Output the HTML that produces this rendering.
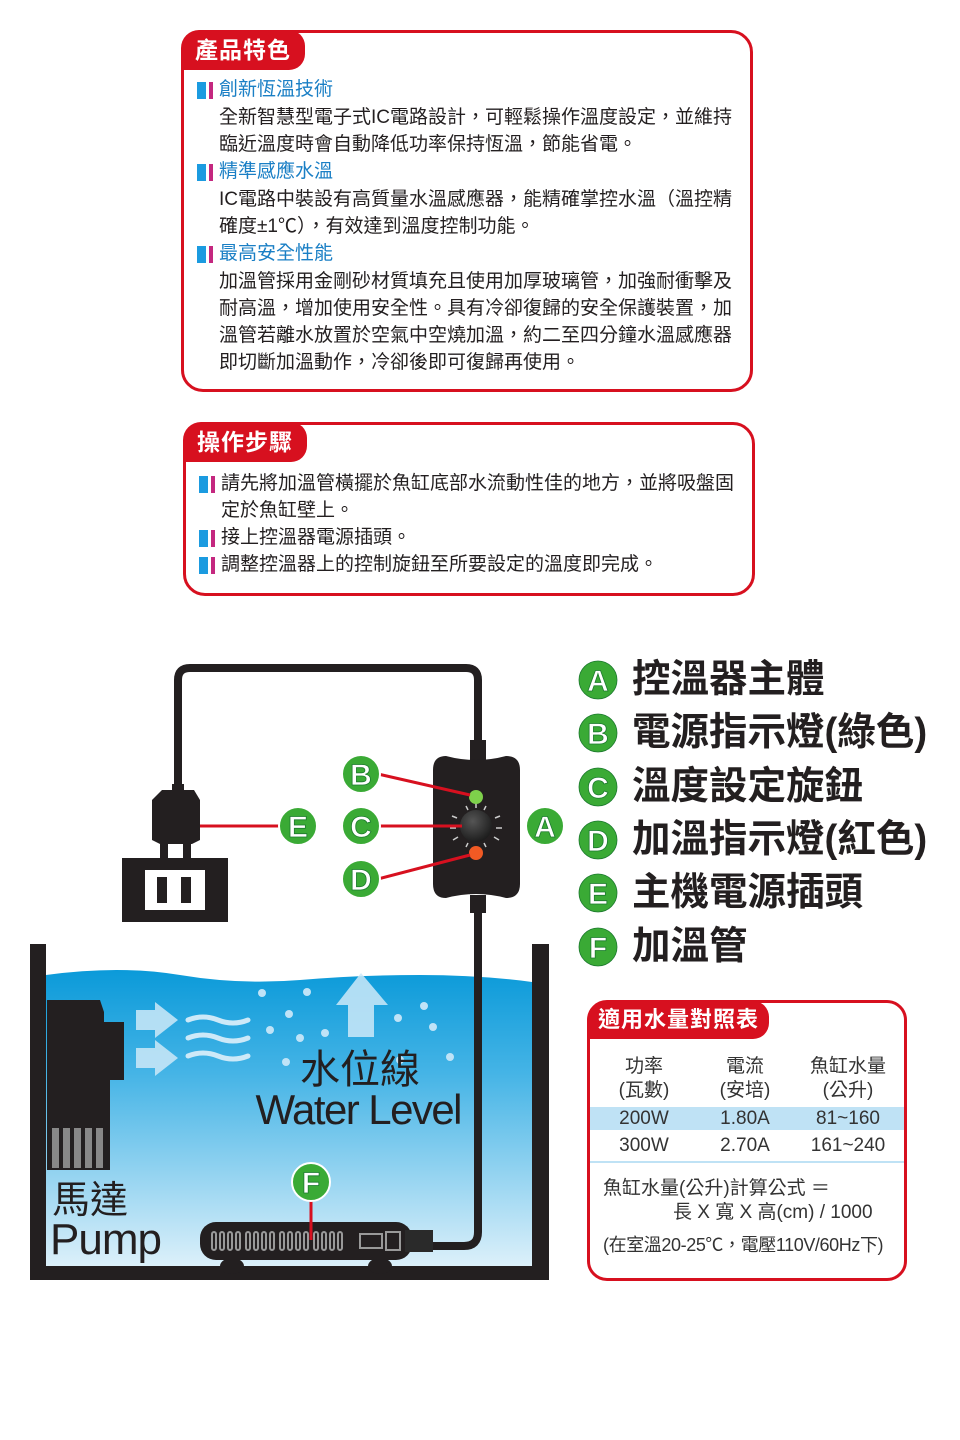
<!DOCTYPE html>
<html><head><meta charset="utf-8">
<style>
body{margin:0;background:#fff;}
#p{position:relative;width:960px;height:1440px;overflow:hidden;font-family:"Liberation Sans","Noto Sans CJK TC",sans-serif;color:#231f20;}
.box{position:absolute;border:3px solid #d7101f;border-radius:22px;box-sizing:border-box;}
.tab{position:absolute;background:#d7101f;color:#fff;border-radius:18px 16px 16px 0;font-size:23px;line-height:40px;padding:0 14px;letter-spacing:1px;font-weight:bold;}
.t{position:absolute;font-size:19px;line-height:27px;white-space:nowrap;}
.h{color:#1a7fc5;}
.bl{position:absolute;width:9px;height:17px;background:#1b9be0;}
.bl:after{content:"";position:absolute;left:12px;top:0;width:4px;height:17px;background:#c4277f;}
.lg{position:absolute;left:632px;font-size:38.5px;font-weight:bold;line-height:44px;white-space:nowrap;}
.tc{position:absolute;font-size:19px;line-height:24px;text-align:center;white-space:nowrap;color:#333;}
</style></head><body><div id="p">

<div class="box" style="left:181px;top:30px;width:572px;height:362px;"></div>
<div class="tab" style="left:181px;top:30px;">產品特色</div>
<div class="bl" style="left:197px;top:82px"></div><div class="t h" style="left:219px;top:76px">創新恆溫技術</div>
<div class="t" style="left:219px;top:104px">全新智慧型電子式IC電路設計，可輕鬆操作溫度設定，並維持</div>
<div class="t" style="left:219px;top:131px">臨近溫度時會自動降低功率保持恆溫，節能省電。</div>
<div class="bl" style="left:197px;top:164px"></div><div class="t h" style="left:219px;top:158px">精準感應水溫</div>
<div class="t" style="left:219px;top:186px">IC電路中裝設有高質量水溫感應器，能精確掌控水溫（溫控精</div>
<div class="t" style="left:219px;top:213px">確度±1℃），有效達到溫度控制功能。</div>
<div class="bl" style="left:197px;top:246px"></div><div class="t h" style="left:219px;top:240px">最高安全性能</div>
<div class="t" style="left:219px;top:268px">加溫管採用金剛砂材質填充且使用加厚玻璃管，加強耐衝擊及</div>
<div class="t" style="left:219px;top:295px">耐高溫，增加使用安全性。具有冷卻復歸的安全保護裝置，加</div>
<div class="t" style="left:219px;top:322px">溫管若離水放置於空氣中空燒加溫，約二至四分鐘水溫感應器</div>
<div class="t" style="left:219px;top:349px">即切斷加溫動作，冷卻後即可復歸再使用。</div>

<div class="box" style="left:183px;top:422px;width:572px;height:174px;"></div>
<div class="tab" style="left:183px;top:422px;">操作步驟</div>
<div class="bl" style="left:199px;top:476px"></div><div class="t" style="left:221px;top:470px">請先將加溫管橫擺於魚缸底部水流動性佳的地方，並將吸盤固</div>
<div class="t" style="left:221px;top:497px">定於魚缸壁上。</div>
<div class="bl" style="left:199px;top:530px"></div><div class="t" style="left:221px;top:524px">接上控溫器電源插頭。</div>
<div class="bl" style="left:199px;top:557px"></div><div class="t" style="left:221px;top:551px">調整控溫器上的控制旋鈕至所要設定的溫度即完成。</div>

<svg style="position:absolute;left:0;top:0" width="960" height="1440">
<defs>
<linearGradient id="w" x1="0" y1="0" x2="0" y2="1"><stop offset="0" stop-color="#0b9ad9"/><stop offset="0.35" stop-color="#45b4e6"/><stop offset="1" stop-color="#dcf0fa"/></linearGradient>
<radialGradient id="k" cx="0.4" cy="0.35" r="0.7"><stop offset="0" stop-color="#555"/><stop offset="1" stop-color="#1a1a1a"/></radialGradient>
</defs>
<path d="M46 975 Q120 965 180 975 T300 980 T420 975 T532 982 L532 1266 L46 1266Z" fill="url(#w)"/>
<rect x="30" y="944" width="16" height="336" fill="#231f20"/>
<rect x="532" y="944" width="17" height="336" fill="#231f20"/>
<rect x="30" y="1266" width="519" height="14" fill="#231f20"/>
<ellipse cx="232" cy="1266" rx="12" ry="8" fill="#231f20"/><ellipse cx="380" cy="1266" rx="12" ry="8" fill="#231f20"/>
<path d="M47 1000 L100 1000 L104 1012 L104 1022 L124 1022 L124 1080 L110 1080 L110 1170 L47 1170Z" fill="#231f20"/>
<g fill="#888"><rect x="52" y="1128" width="7" height="40"/><rect x="63" y="1128" width="7" height="40"/><rect x="74" y="1128" width="7" height="40"/><rect x="85" y="1128" width="7" height="40"/><rect x="96" y="1128" width="7" height="40"/></g>
<g fill="#cde9f8" opacity="0.85">
<path d="M136 1010 L155 1010 L155 1002 L178 1020 L155 1038 L155 1030 L136 1030Z"/>
<path d="M136 1048 L155 1048 L155 1040 L178 1058 L155 1076 L155 1068 L136 1068Z"/>
<path d="M336 1005 L361 973 L388 1005 L374 1005 L374 1037 L348 1037 L348 1005Z"/>
</g>
<g fill="none" stroke="#cde9f8" stroke-width="5" stroke-linecap="round">
<path d="M188 1020 q15 -6 30 0 t30 0"/><path d="M188 1038 q15 -6 30 0 t30 0"/><path d="M188 1056 q15 -6 30 0 t30 0"/></g>
<g fill="#bfe3f7"><circle cx="262" cy="993" r="4"/><circle cx="307" cy="992" r="4"/><circle cx="289" cy="1014" r="4"/><circle cx="270" cy="1030" r="4"/><circle cx="300" cy="1038" r="4"/><circle cx="325" cy="1033" r="4"/><circle cx="286" cy="1062" r="4"/><circle cx="398" cy="1018" r="4"/><circle cx="424" cy="1006" r="4"/><circle cx="433" cy="1027" r="4"/><circle cx="400" cy="1060" r="4"/><circle cx="450" cy="1057" r="4"/></g>
<text x="360" y="1083" text-anchor="middle" font-size="40" font-family="Liberation Sans,Noto Sans CJK TC,sans-serif" fill="#231f20">水位線</text>
<text x="359" y="1124" text-anchor="middle" font-size="42" font-family="Liberation Sans,Noto Sans CJK TC,sans-serif" fill="#231f20" textLength="207">Water Level</text>
<text x="52" y="1213" font-size="38" font-family="Liberation Sans,Noto Sans CJK TC,sans-serif" fill="#231f20">馬達</text>
<text x="50" y="1254" font-size="44" font-family="Liberation Sans,sans-serif" fill="#231f20" textLength="112">Pump</text>
<path d="M178 790 L178 680 Q178 668 190 668 L466 668 Q478 668 478 680 L478 760" fill="none" stroke="#231f20" stroke-width="8"/>
<path d="M478 895 L478 1232 Q478 1246 464 1246 L430 1246" fill="none" stroke="#231f20" stroke-width="8"/>
<rect x="200" y="1222" width="212" height="38" rx="16" fill="#231f20"/>
<rect x="405" y="1230" width="28" height="22" fill="#2a2a2a"/>
<g fill="none" stroke="#999" stroke-width="2"><rect x="212" y="1232" width="4" height="18" rx="2"/><rect x="220" y="1232" width="4" height="18" rx="2"/><rect x="228" y="1232" width="4" height="18" rx="2"/><rect x="236" y="1232" width="4" height="18" rx="2"/><rect x="246" y="1232" width="4" height="18" rx="2"/><rect x="254" y="1232" width="4" height="18" rx="2"/><rect x="262" y="1232" width="4" height="18" rx="2"/><rect x="270" y="1232" width="4" height="18" rx="2"/><rect x="280" y="1232" width="4" height="18" rx="2"/><rect x="288" y="1232" width="4" height="18" rx="2"/><rect x="296" y="1232" width="4" height="18" rx="2"/><rect x="304" y="1232" width="4" height="18" rx="2"/><rect x="314" y="1232" width="4" height="18" rx="2"/><rect x="322" y="1232" width="4" height="18" rx="2"/><rect x="330" y="1232" width="4" height="18" rx="2"/><rect x="338" y="1232" width="4" height="18" rx="2"/><rect x="360" y="1234" width="22" height="14"/><rect x="386" y="1232" width="14" height="18"/></g>
<path d="M162 790 L194 790 L200 800 L200 840 L192 844 L160 844 L152 840 L152 800Z" fill="#231f20"/>
<rect x="172" y="784" width="12" height="8" fill="#231f20"/>
<rect x="160" y="844" width="8" height="16" fill="#231f20"/><rect x="183" y="844" width="8" height="16" fill="#231f20"/>
<rect x="122" y="858" width="106" height="64" fill="#231f20"/>
<rect x="145" y="870" width="60" height="40" fill="#fff"/>
<rect x="157" y="877" width="10" height="26" fill="#231f20"/><rect x="181" y="877" width="10" height="26" fill="#231f20"/>
<rect x="470" y="740" width="16" height="20" fill="#231f20"/><rect x="470" y="895" width="16" height="18" fill="#231f20"/>
<path d="M446 756 Q476 764 506 756 Q520 756 520 770 L520 884 Q520 898 506 898 Q476 890 446 898 Q433 898 433 884 L433 770 Q433 756 446 756Z" fill="#231f20"/>
<circle cx="476" cy="826" r="16" fill="url(#k)"/>
<g stroke="#ccc" stroke-width="1.5"><line x1="452" y1="816" x2="457" y2="818"/><line x1="450" y1="828" x2="456" y2="828"/><line x1="453" y1="840" x2="458" y2="837"/><line x1="500" y1="816" x2="495" y2="818"/><line x1="502" y1="828" x2="496" y2="828"/><line x1="499" y1="840" x2="494" y2="837"/><line x1="466" y1="806" x2="468" y2="810"/><line x1="486" y1="806" x2="484" y2="810"/><line x1="476" y1="803" x2="476" y2="808"/><line x1="466" y1="847" x2="468" y2="843"/><line x1="486" y1="847" x2="484" y2="843"/></g>
<circle cx="476" cy="797" r="7" fill="#7ed04b"/><circle cx="476" cy="853" r="7" fill="#f15a24"/>
<g stroke="#d7101f" stroke-width="3"><line x1="378" y1="774" x2="470" y2="795"/><line x1="378" y1="826" x2="462" y2="826"/><line x1="378" y1="879" x2="470" y2="855"/><line x1="200" y1="826" x2="280" y2="826"/><line x1="311" y1="1200" x2="311" y2="1240"/></g>
<g font-family="Liberation Sans,sans-serif" font-weight="bold" font-size="30" fill="#fff" text-anchor="middle" stroke="#1c7a2e" stroke-width="0.8">
<circle cx="361" cy="774" r="19" fill="#3aaa35" stroke="#fff" stroke-width="2"/><text x="361" y="785">B</text>
<circle cx="361" cy="826" r="19" fill="#3aaa35" stroke="#fff" stroke-width="2"/><text x="361" y="837">C</text>
<circle cx="361" cy="879" r="19" fill="#3aaa35" stroke="#fff" stroke-width="2"/><text x="361" y="890">D</text>
<circle cx="298" cy="826" r="19" fill="#3aaa35" stroke="#fff" stroke-width="2"/><text x="298" y="837">E</text>
<circle cx="545" cy="826" r="19" fill="#3aaa35" stroke="#fff" stroke-width="2"/><text x="545" y="837">A</text>
<circle cx="311" cy="1182" r="19" fill="#3aaa35" stroke="#fff" stroke-width="2"/><text x="311" y="1193">F</text>
<circle cx="598" cy="680" r="19" fill="#3aaa35"/><text x="598" y="691">A</text>
<circle cx="598" cy="733" r="19" fill="#3aaa35"/><text x="598" y="744">B</text>
<circle cx="598" cy="787" r="19" fill="#3aaa35"/><text x="598" y="798">C</text>
<circle cx="598" cy="840" r="19" fill="#3aaa35"/><text x="598" y="851">D</text>
<circle cx="598" cy="893" r="19" fill="#3aaa35"/><text x="598" y="904">E</text>
<circle cx="598" cy="947" r="19" fill="#3aaa35"/><text x="598" y="958">F</text>
</g>
</svg>

<div class="lg" style="top:658px">控溫器主體</div>
<div class="lg" style="top:711px">電源指示燈(綠色)</div>
<div class="lg" style="top:765px">溫度設定旋鈕</div>
<div class="lg" style="top:818px">加溫指示燈(紅色)</div>
<div class="lg" style="top:871px">主機電源插頭</div>
<div class="lg" style="top:925px">加溫管</div>

<div class="box" style="left:587px;top:1000px;width:320px;height:281px;border-radius:20px;"></div>
<div class="tab" style="left:588px;top:1001px;font-size:22px;line-height:38px;padding:0 10px;">適用水量對照表</div>
<div style="position:absolute;left:590px;top:1107px;width:314px;height:23px;background:#bfe2f5"></div>
<div style="position:absolute;left:590px;top:1161px;width:314px;height:2px;background:#bfe2f5"></div>
<div class="tc" style="left:604px;width:80px;top:1055px">功率<br>(瓦數)</div>
<div class="tc" style="left:705px;width:80px;top:1055px">電流<br>(安培)</div>
<div class="tc" style="left:805px;width:86px;top:1055px">魚缸水量<br>(公升)</div>
<div class="tc" style="left:604px;width:80px;top:1107px">200W</div>
<div class="tc" style="left:705px;width:80px;top:1107px">1.80A</div>
<div class="tc" style="left:805px;width:86px;top:1107px">81~160</div>
<div class="tc" style="left:604px;width:80px;top:1134px">300W</div>
<div class="tc" style="left:705px;width:80px;top:1134px">2.70A</div>
<div class="tc" style="left:805px;width:86px;top:1134px">161~240</div>
<div class="tc" style="left:603px;top:1177px;text-align:left">魚缸水量(公升)計算公式 ＝</div>
<div class="tc" style="left:673px;top:1201px;text-align:left">長 X 寬 X 高(cm) / 1000</div>
<div class="tc" style="left:603px;top:1233px;text-align:left;font-size:18px;letter-spacing:-0.4px">(在室溫20-25℃，電壓110V/60Hz下)</div>
</div></body></html>
